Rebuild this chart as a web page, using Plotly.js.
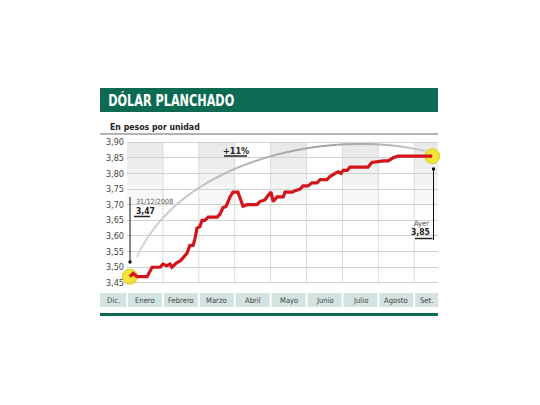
<!DOCTYPE html>
<html><head><meta charset="utf-8">
<script src="https://cdn.plot.ly/plotly-3.0.1.min.js"></script>
<style>html,body{margin:0;padding:0;background:#fff}#chart{width:540px;height:405px}</style>
</head><body><div id="chart"></div>
<script>
// ---- Data (month position: 0 = 1 de enero, 1 = 1 de febrero, ...) ----
const mes = [0.08,0.17,0.28,0.56,0.70,0.92,1.00,1.11,1.20,1.25,
             1.39,1.48,1.56,1.67,1.75,1.84,1.89,1.95,2.03,2.09,
             2.17,2.26,2.51,2.59,2.67,2.76,2.87,2.95,3.09,3.15,
             3.23,3.34,3.62,3.70,3.84,3.93,4.01,4.07,4.18,4.35,
             4.40,4.60,4.68,4.82,4.90,5.04,5.15,5.29,5.38,5.57,
             5.65,5.79,5.88,5.96,6.02,6.13,6.21,6.71,6.82,7.13,
             7.27,7.41,7.55,8.36,8.50];
const cotizacion = [3.47,3.48,3.47,3.47,3.50,3.50,3.51,3.505,3.51,3.50,
                    3.515,3.52,3.53,3.545,3.57,3.57,3.59,3.625,3.63,3.65,
                    3.65,3.66,3.66,3.67,3.69,3.695,3.725,3.74,3.74,3.72,
                    3.695,3.70,3.70,3.71,3.715,3.73,3.74,3.71,3.725,3.725,
                    3.74,3.74,3.745,3.75,3.76,3.76,3.77,3.77,3.78,3.78,
                    3.79,3.80,3.805,3.80,3.81,3.81,3.82,3.82,3.835,3.84,
                    3.84,3.85,3.855,3.855,3.855];
const meses = ['Dic.','Enero','Febrero','Marzo','Abril','Mayo','Junio','Julio','Agosto','Set.'];
const yTicks = [3.45,3.50,3.55,3.60,3.65,3.70,3.75,3.80,3.85,3.90];
const fechaInicio = '31/12/2008';
const etiquetaFin = 'Ayer';
const titulo = 'DÓLAR PLANCHADO';
const subtitulo = 'En pesos por unidad';

// ---- Layout geometry (pixels) ----
const W = 540, H = 405, L = 127, R = 438, T = 139, B = 286;
const XMAX = 8.66;
const px = x => (x - L) / (R - L);
const py = y => (B - y) / (B - T);
const colW = (R - L) / XMAX;
const GREEN = '#0c6a53';
const NARROW = "'DejaVu Sans Condensed', Roboto, sans-serif";
const fmt = v => v.toFixed(2).replace('.', ',');

const shapes = [];
const annotations = [];

// shaded alternate columns (gradient from top)
[0, 2, 4, 6, 8].forEach(k => {
  const N = 14, top = 3.90, bot = 3.66;
  for (let i = 0; i < N; i++) {
    const a = 0.42 * (1 - i / N);
    shapes.push({type:'rect', xref:'x', yref:'y', x0:k, x1:Math.min(k+1, XMAX),
      y0: top - (i+1)*(top-bot)/N, y1: top - i*(top-bot)/N,
      fillcolor:`rgba(200,200,200,${a.toFixed(3)})`, line:{width:0}, layer:'below'});
  }
});
// vertical month separators
for (let k = 1; k <= 8; k++) {
  shapes.push({type:'line', xref:'x', yref:'y', x0:k, x1:k, y0:yTicks[0], y1:yTicks[yTicks.length-1],
    line:{color:'#dadada', width:1}, layer:'below'});
}

// header
shapes.push({type:'rect', xref:'paper', yref:'paper', x0:px(100), x1:px(438), y0:py(112), y1:py(88),
  fillcolor:GREEN, line:{width:0}});
annotations.push({xref:'paper', yref:'paper', x:px(171), y:py(100.5), xanchor:'center', yanchor:'middle',
  text:titulo, showarrow:false, font:{family:NARROW, size:16.5, weight:700, color:'#fff'}});
annotations.push({xref:'paper', yref:'paper', x:px(107.5), y:py(127), xanchor:'left', yanchor:'middle',
  text:subtitulo, showarrow:false, font:{family:NARROW, size:8.7, weight:700, color:'#222'}});
shapes.push({type:'line', xref:'paper', yref:'paper', x0:px(100), x1:px(438), y0:py(134), y1:py(134),
  line:{color:'#666', width:1}});

// month band
meses.forEach((m, i) => {
  let x0, x1;
  if (i === 0) { x0 = 100; x1 = L - 1; }
  else { x0 = L + (i-1)*colW + 1; x1 = Math.min(L + i*colW - 1, R); }
  shapes.push({type:'rect', xref:'paper', yref:'paper', x0:px(x0), x1:px(x1), y0:py(307), y1:py(293),
    fillcolor:'#d3e3e1', line:{width:0}});
  annotations.push({xref:'paper', yref:'paper', x:px((x0+x1)/2), y:py(300.5), xanchor:'center', yanchor:'middle',
    text:m, showarrow:false, font:{family:NARROW, size:7.6, color:'#444'}});
});
// bottom rule
shapes.push({type:'line', xref:'paper', yref:'paper', x0:px(100), x1:px(438), y0:py(314.5), y1:py(314.5),
  line:{color:GREEN, width:3}});

// gradient arc (+11%)
const P = [[137,257],[180,160],[330,128],[425,151]];
const bez = t => {
  const u = 1 - t;
  return [u*u*u*P[0][0] + 3*u*u*t*P[1][0] + 3*u*t*t*P[2][0] + t*t*t*P[3][0],
          u*u*u*P[0][1] + 3*u*u*t*P[1][1] + 3*u*t*t*P[2][1] + t*t*t*P[3][1]];
};
const NS = 40;
for (let i = 0; i < NS; i++) {
  const t0 = i / NS, t1 = (i + 1) / NS, tm = (t0 + t1) / 2;
  const a = bez(t0), b = bez(t1);
  let g;
  if (tm < 0.7) g = Math.round(215 - (215 - 160) * (tm / 0.7));
  else g = Math.round(160 + (200 - 160) * ((tm - 0.7) / 0.3));
  shapes.push({type:'line', xref:'paper', yref:'paper', x0:px(a[0]), y0:py(a[1]), x1:px(b[0]), y1:py(b[1]),
    line:{color:`rgb(${g},${g},${g})`, width:2}});
}
const first = cotizacion[0], last = cotizacion[cotizacion.length-1];
const pct = Math.round((last / first - 1) * 100);
annotations.push({xref:'paper', yref:'paper', x:px(235.5), y:py(150.5), xanchor:'center', yanchor:'middle',
  text:`+${pct}%`, showarrow:false, font:{family:NARROW, size:9, weight:700, color:'#222'}});
shapes.push({type:'line', xref:'paper', yref:'paper', x0:px(224), x1:px(247), y0:py(156), y1:py(156),
  line:{color:'#222', width:1.5}});

// start leader
shapes.push({type:'line', xref:'paper', yref:'paper', x0:px(130), x1:px(130), y0:py(197), y1:py(262),
  line:{color:'#111', width:1}});
shapes.push({type:'circle', xref:'paper', yref:'paper', x0:px(128.3), x1:px(131.7), y0:py(260.3), y1:py(263.7),
  fillcolor:'#111', line:{width:0}});
annotations.push({xref:'paper', yref:'paper', x:px(133.5), y:py(201.5), xanchor:'left', yanchor:'middle',
  text:fechaInicio, showarrow:false, font:{family:NARROW, size:7.2, color:'#555'}});
annotations.push({xref:'paper', yref:'paper', x:px(133.5), y:py(210.5), xanchor:'left', yanchor:'middle',
  text:fmt(first), showarrow:false, font:{family:NARROW, size:8.5, weight:700, color:'#222'}});
shapes.push({type:'line', xref:'paper', yref:'paper', x0:px(134), x1:px(150), y0:py(216.5), y1:py(216.5),
  line:{color:'#222', width:1.5}});

// end leader
shapes.push({type:'line', xref:'paper', yref:'paper', x0:px(433.5), x1:px(433.5), y0:py(169), y1:py(240),
  line:{color:'#111', width:1}});
shapes.push({type:'circle', xref:'paper', yref:'paper', x0:px(431.8), x1:px(435.2), y0:py(167.3), y1:py(170.7),
  fillcolor:'#111', line:{width:0}});
annotations.push({xref:'paper', yref:'paper', x:px(431), y:py(223), xanchor:'right', yanchor:'middle',
  text:etiquetaFin, showarrow:false, font:{family:NARROW, size:7.5, color:'#555'}});
annotations.push({xref:'paper', yref:'paper', x:px(431.5), y:py(232), xanchor:'right', yanchor:'middle',
  text:fmt(last).slice(0,4), showarrow:false, font:{family:NARROW, size:8.5, weight:700, color:'#222'}});
shapes.push({type:'line', xref:'paper', yref:'paper', x0:px(415), x1:px(432.5), y0:py(238.5), y1:py(238.5),
  line:{color:'#222', width:1.5}});

const traces = [
  {type:'scatter', mode:'markers', x:[mes[0], mes[mes.length-1]], y:[first, last],
   marker:{size:15, color:'#f1e33a', line:{color:'#dccb22', width:1}}, cliponaxis:false, hoverinfo:'skip'},
  {type:'scatter', mode:'lines', x:mes, y:cotizacion,
   line:{color:'#d3141b', width:3.2}, cliponaxis:false, hoverinfo:'skip'}
];

const layout = {
  width:W, height:H, margin:{l:L, r:W-R, t:T, b:H-B, pad:0},
  paper_bgcolor:'#fff', plot_bgcolor:'#fff', showlegend:false, hovermode:false,
  separators:',.',
  xaxis:{range:[0, XMAX], showgrid:false, zeroline:false, showline:false, showticklabels:false, ticks:'', fixedrange:true},
  yaxis:{range:[3.44, 3.91], tickvals:yTicks, tickformat:'.2f', showgrid:true, gridcolor:'#d2d2d2', gridwidth:1,
         zeroline:false, showline:false, ticks:'', ticklabelstandoff:2,
         tickfont:{family:NARROW, size:9, color:'#444'}, fixedrange:true},
  shapes, annotations
};
Plotly.newPlot('chart', traces, layout, {displayModeBar:false, staticPlot:true}).then(gd => {
  // condense the headline to the width of the original condensed typeface
  gd.querySelectorAll('text.annotation-text').forEach(t => {
    if (t.textContent === titulo) {
      t.setAttribute('textLength', '126');
      t.setAttribute('lengthAdjust', 'spacingAndGlyphs');
    }
  });
});
</script></body></html>
